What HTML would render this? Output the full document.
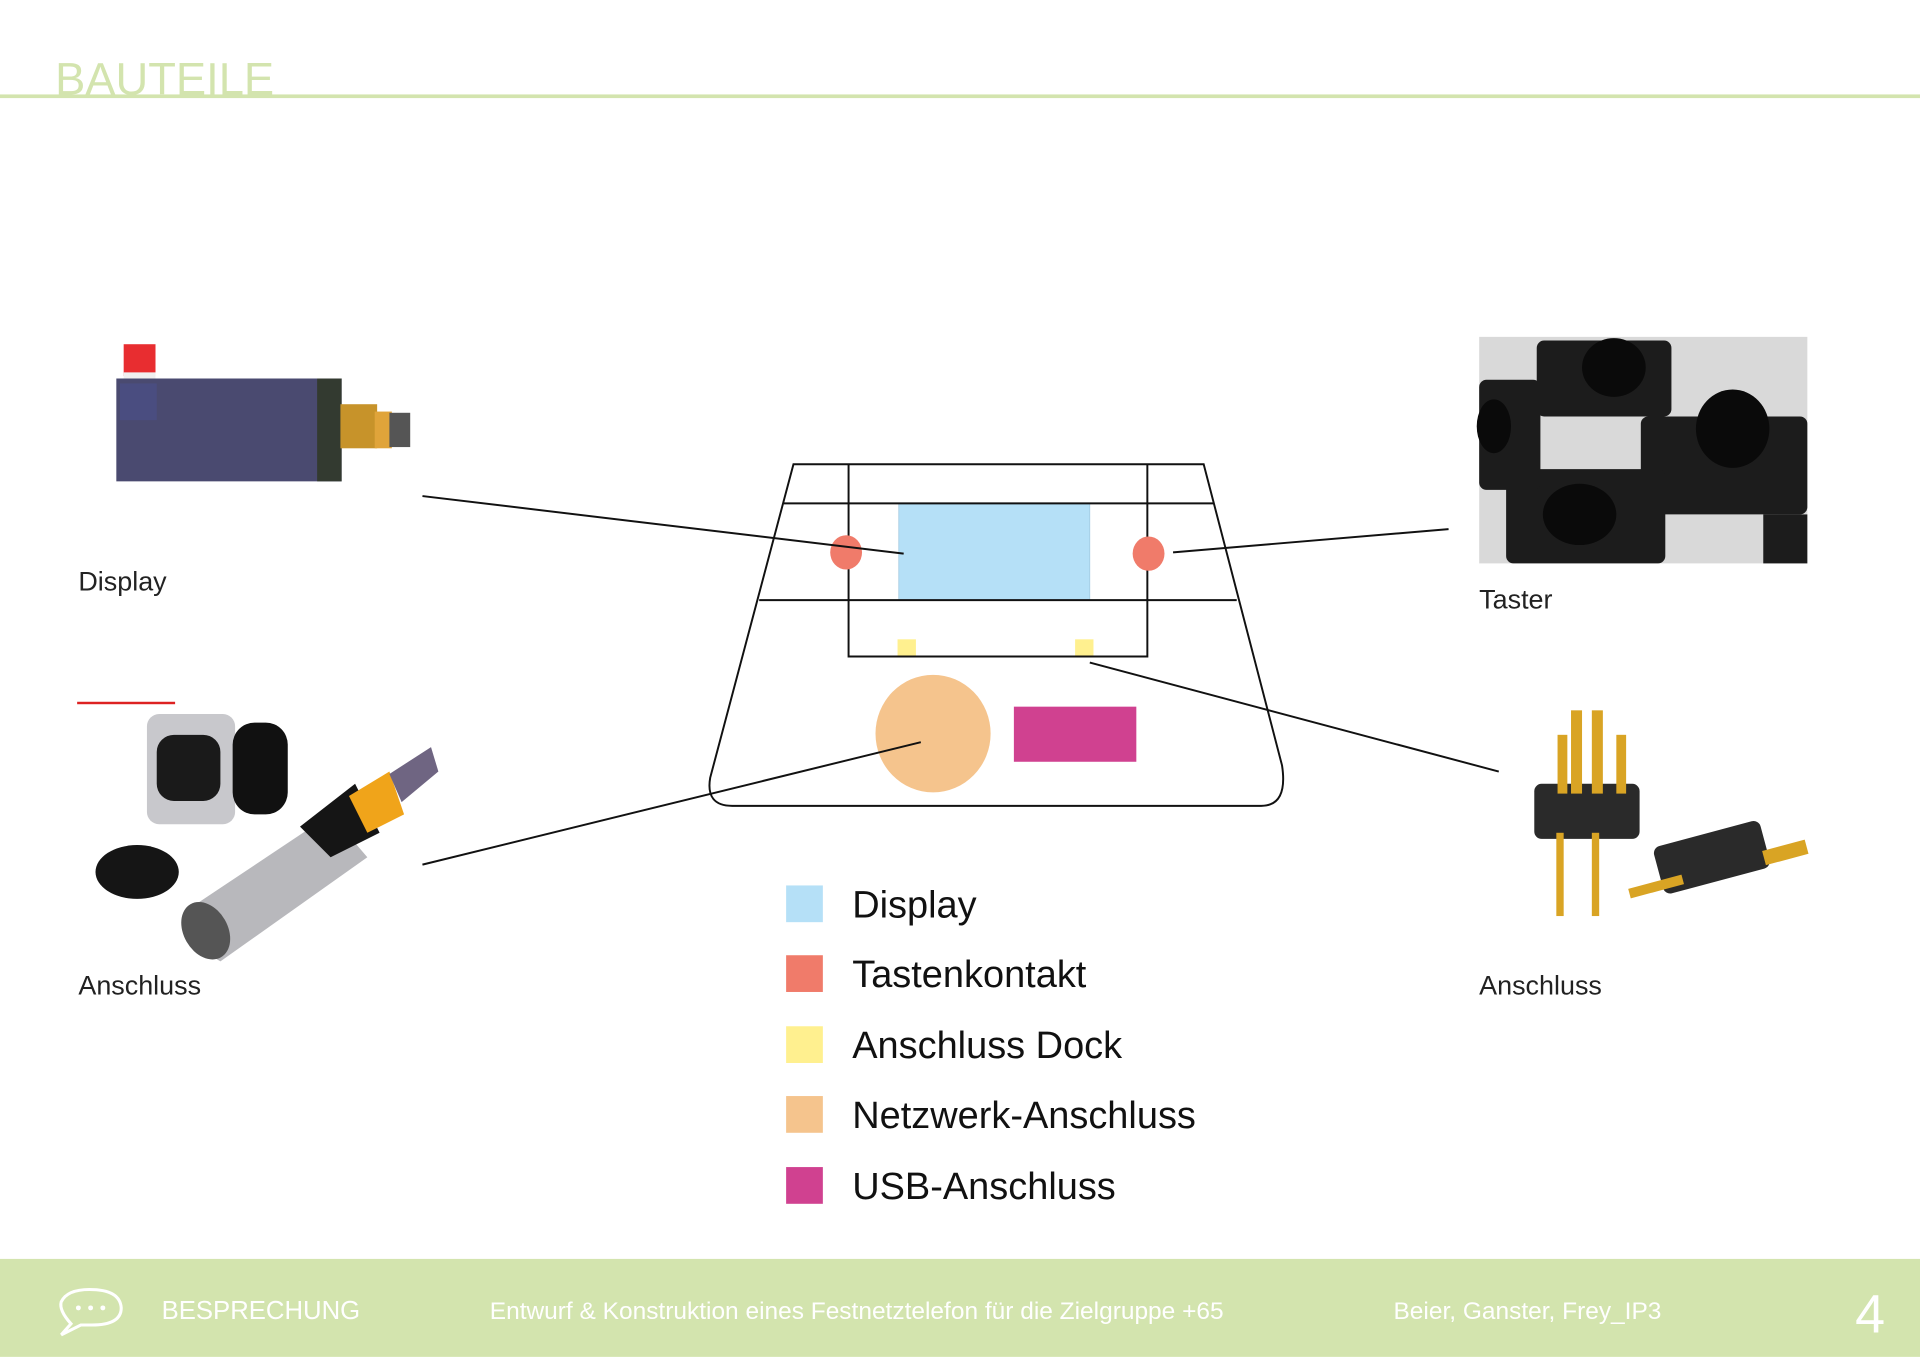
<!DOCTYPE html>
<html><head><meta charset="utf-8"><style>
html,body{margin:0;padding:0;background:#fff;}
svg{display:block;}
text{font-family:"Liberation Sans",sans-serif;}
</style></head><body>
<svg width="1920" height="1357" viewBox="0 0 1568 1108" xmlns="http://www.w3.org/2000/svg">
<rect width="1568" height="1108" fill="#fff"/>
<!-- header -->
<text x="45" y="77" font-size="37" fill="#d3e4ae">BAUTEILE</text>
<rect x="0" y="77" width="1568" height="3" fill="#d3e4ae"/>

<!-- display module image -->
<rect x="101" y="281" width="26" height="26" fill="#e82d30"/>
<rect x="101" y="304" width="26" height="8" fill="#f0f0f0"/>
<rect x="95" y="309" width="184" height="84" fill="#4a4a70"/>
<rect x="98" y="313" width="30" height="30" fill="#4a4e88" opacity="0.7"/>
<rect x="259" y="309" width="20" height="84" fill="#333a30"/>
<rect x="278" y="330" width="30" height="36" fill="#c7932a"/>
<rect x="306" y="336" width="14" height="30" fill="#e0a43a"/>
<rect x="318" y="337" width="17" height="28" fill="#555"/>

<!-- buttons image -->
<rect x="1208" y="275" width="268" height="185" fill="#d9d9d9"/>
<g fill="#1c1c1c">
<rect x="1255" y="278" width="110" height="62" rx="6"/>
<rect x="1340" y="340" width="136" height="80" rx="6"/>
<rect x="1230" y="383" width="130" height="77" rx="6"/>
<rect x="1208" y="310" width="50" height="90" rx="6"/>
<rect x="1440" y="420" width="36" height="40"/>
</g>
<g fill="#0a0a0a">
<ellipse cx="1318" cy="300" rx="26" ry="24"/>
<ellipse cx="1415" cy="350" rx="30" ry="32"/>
<ellipse cx="1290" cy="420" rx="30" ry="25"/>
<ellipse cx="1220" cy="348" rx="14" ry="22"/>
</g>

<!-- left connector image -->
<rect x="63" y="573" width="80" height="2" fill="#d22"/>
<rect x="120" y="583" width="72" height="90" rx="10" fill="#c8c8cc"/>
<rect x="128" y="600" width="52" height="54" rx="14" fill="#1a1a1a"/>
<rect x="190" y="590" width="45" height="75" rx="18" fill="#111"/>
<ellipse cx="112" cy="712" rx="34" ry="22" fill="#151515"/>
<polygon points="150,745 270,665 300,700 180,785 155,770" fill="#b8b8bc"/>
<polygon points="245,675 290,640 310,680 270,700" fill="#151515"/>
<polygon points="285,650 318,630 330,665 300,680" fill="#f0a41a"/>
<polygon points="318,632 352,610 358,630 328,655" fill="#6f6582"/>
<ellipse cx="168" cy="760" rx="18" ry="25" fill="#555" transform="rotate(-30 168 760)"/>

<!-- right pogo pin image -->
<rect x="1253" y="640" width="86" height="45" rx="6" fill="#2a2a2a"/>
<rect x="1353" y="680" width="90" height="40" rx="6" fill="#2a2a2a" transform="rotate(-15 1398 700)"/>
<g fill="#d9a424">
<rect x="1283" y="580" width="9" height="68"/><rect x="1300" y="580" width="9" height="68"/>
<rect x="1272" y="600" width="8" height="48"/><rect x="1320" y="600" width="8" height="48"/>
<rect x="1271" y="680" width="6" height="68"/><rect x="1300" y="680" width="6" height="68"/>
<rect x="1330" y="720" width="45" height="8" transform="rotate(-15 1352 724)"/>
<rect x="1440" y="690" width="36" height="12" transform="rotate(-15 1458 696)"/>
</g>

<!-- labels -->
<text x="64" y="482" font-size="22" fill="#222">Display</text>
<text x="1208" y="497" font-size="22" fill="#222">Taster</text>
<text x="64" y="812" font-size="22" fill="#222">Anschluss</text>
<text x="1208" y="812" font-size="22" fill="#222">Anschluss</text>

<!-- device -->
<rect x="734" y="411" width="156" height="79" fill="#b5e0f7" stroke="#9fc8de" stroke-width="0.6"/>
<rect x="733" y="522" width="15" height="14" fill="#fff08f"/>
<rect x="878" y="522" width="15" height="14" fill="#fff08f"/>
<ellipse cx="762" cy="599" rx="47" ry="48" fill="#f5c48d"/>
<rect x="828" y="577" width="100" height="45" fill="#d04190"/>
<g fill="none" stroke="#111" stroke-width="1.6">
<path d="M648,379 L983,379 L1047,625 Q1052,658 1030,658 L598,658 Q576,658 580,635 Z"/>
<line x1="640" y1="411" x2="991" y2="411"/>
<line x1="620" y1="490" x2="1010" y2="490"/>
<polyline points="693,379 693,536 937,536 937,379"/>
</g>
<ellipse cx="691" cy="451" rx="13" ry="14" fill="#f07b6a"/>
<ellipse cx="938" cy="452" rx="13" ry="14" fill="#f07b6a"/>
<g stroke="#111" stroke-width="1.6">
<line x1="345" y1="405" x2="738" y2="452"/>
<line x1="958" y1="451" x2="1183" y2="432"/>
<line x1="890" y1="541" x2="1224" y2="630"/>
<line x1="345" y1="706" x2="752" y2="606"/>
</g>

<!-- legend -->
<rect x="642" y="723" width="30" height="30" fill="#b5e0f7"/>
<rect x="642" y="780" width="30" height="30" fill="#f07b6a"/>
<rect x="642" y="838" width="30" height="30" fill="#fff08f"/>
<rect x="642" y="895" width="30" height="30" fill="#f5c48d"/>
<rect x="642" y="953" width="30" height="30" fill="#d04190"/>
<g font-size="31" fill="#111">
<text x="696" y="749">Display</text>
<text x="696" y="806">Tastenkontakt</text>
<text x="696" y="864">Anschluss Dock</text>
<text x="696" y="921">Netzwerk-Anschluss</text>
<text x="696" y="979">USB-Anschluss</text>
</g>

<!-- footer -->
<rect x="0" y="1028" width="1568" height="80" fill="#d3e4ae"/>
<path d="M58,1081 Q48,1070 50,1063 Q55,1053 73,1053 Q98,1053 99,1068 Q99,1082 75,1082 L66,1082 L50,1090 Z" fill="none" stroke="#fff" stroke-width="2.5"/>
<circle cx="64" cy="1068" r="2" fill="#fff"/><circle cx="74" cy="1068" r="2" fill="#fff"/><circle cx="84" cy="1068" r="2" fill="#fff"/>
<g fill="#fff" font-size="20">
<text x="132" y="1077" font-size="21">BESPRECHUNG</text>
<text x="400" y="1077">Entwurf &amp; Konstruktion eines Festnetztelefon für die Zielgruppe +65</text>
<text x="1138" y="1077">Beier, Ganster, Frey_IP3</text>
<text x="1515" y="1088" font-size="44">4</text>
</g>
</svg>
</body></html>
